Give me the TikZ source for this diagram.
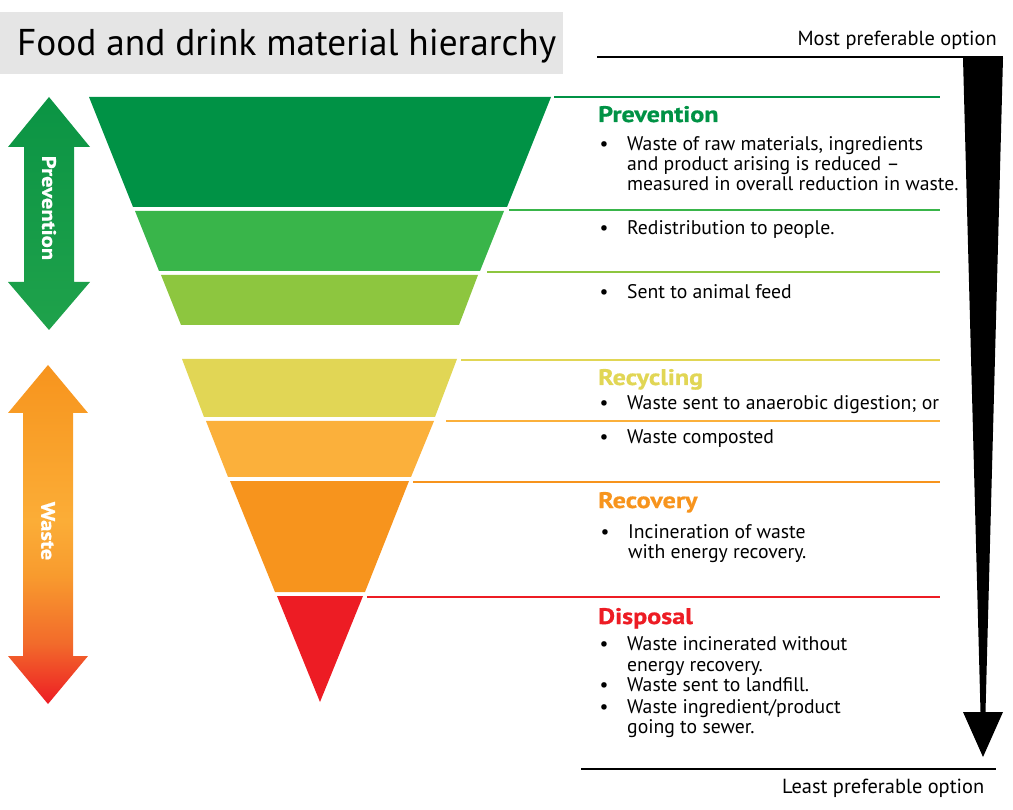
\documentclass[tikz,border=0pt]{standalone}
\usepackage{fontspec}
\setmainfont{PT Sans}
\newfontfamily\headfont{PT Sans}[FakeStretch=1.16,FakeBold=0.8]
\definecolor{gA}{HTML}{009245}
\definecolor{gB}{HTML}{39B54A}
\definecolor{gC}{HTML}{8DC63F}
\definecolor{yA}{HTML}{E1D655}
\definecolor{oA}{HTML}{FBB03B}
\definecolor{oB}{HTML}{F7941D}
\definecolor{rA}{HTML}{ED1C24}
\definecolor{titlegray}{HTML}{E5E5E5}
\definecolor{wred}{HTML}{ED1C24}
\definecolor{wredor}{HTML}{F26B2B}
\definecolor{wmid}{HTML}{F89B2E}
\definecolor{wlight}{HTML}{FBAD37}
\definecolor{wtop}{HTML}{F7941D}
\definecolor{arrgtop}{HTML}{0B9444}
\definecolor{arrgbot}{HTML}{1FA24B}
\pgfdeclareverticalshading{wasteshade}{100bp}{color(0bp)=(wred); color(25bp)=(wred); color(34bp)=(wredor); color(44bp)=(wmid); color(52bp)=(wlight); color(75bp)=(wtop); color(100bp)=(wtop)}
\tikzset{
  sepline/.style={line width=2pt},
  bodytext/.style={font=\fontsize{19.7}{20}\selectfont, anchor=base west, inner sep=0pt},
  bulletmark/.style={font=\fontsize{19.7}{20}\selectfont, anchor=base, inner sep=0pt},
  headtext/.style={font=\headfont\fontsize{22.5}{24}\selectfont\bfseries, anchor=base west, inner sep=0pt},
  endtext/.style={font=\fontsize{20.4}{22}\selectfont, inner sep=0pt},
  arrowlabel/.style={font=\headfont\fontsize{19.5}{20}\selectfont\bfseries, text=white, rotate=-90, inner sep=0pt},
}
\begin{document}
\begin{tikzpicture}[x=1pt,y=-1pt]
\useasboundingbox (0,0) rectangle (1013,810);
% title
\fill[titlegray] (0,12.5) rectangle (563,74.5);
\node[anchor=base west, font=\fontsize{37.3}{40}\selectfont, inner sep=0pt] (title) at (17,56) {Food and drink material hierarchy};

% left arrows
\shade[top color=arrgtop, bottom color=arrgbot] (49,97) -- (90,147) -- (74,147) -- (74,282) -- (90,282) -- (49,330) -- (8,282) -- (24,282) -- (24,147) -- (8,147) -- cycle;
\node[arrowlabel] (prevlab) at (49,208) {Prevention};
\shade[shading=wasteshade] (48,365) -- (88,413) -- (73,413) -- (73,656) -- (88,656) -- (48,704) -- (8,656) -- (23,656) -- (23,413) -- (8,413) -- cycle;
\node[arrowlabel] (wastelab) at (48,531) {Waste};

% funnel bands
\fill[gA] (89,97) -- (551,97) -- (507,207) -- (133,207) -- cycle;
\fill[gB] (135,211) -- (504,211) -- (480,271) -- (159,271) -- cycle;
\fill[gC] (161,275) -- (478,275) -- (459,325) -- (181,325) -- cycle;
\fill[yA] (182,359) -- (457,359) -- (435,417) -- (204,417) -- cycle;
\fill[oA] (206,421) -- (434,421) -- (411,477) -- (228,477) -- cycle;
\fill[oB] (230,481) -- (409,481) -- (365,592) -- (275,592) -- cycle;
\fill[rA] (277,596) -- (363,596) -- (320,702) -- cycle;

% separator lines
\draw[sepline, gA] (554,97.5) -- (940,97.5);
\draw[sepline, gB] (509,210) -- (940,210);
\draw[sepline, gC] (487,272) -- (940,272);
\draw[sepline, yA] (461,360) -- (940,360);
\draw[sepline, oA] (446,421) -- (940,421);
\draw[sepline, oB] (413,482) -- (940,482);
\draw[sepline, rA] (367,597) -- (940,597);

% preference arrow
\draw[sepline, black] (597,57.5) -- (1003,57.5);
\node[endtext, anchor=base east] (most) at (997,46) {Most preferable option};
\fill[black] (963,58) -- (1003,58) -- (985.5,712) -- (1003,712) -- (983,757) -- (963,712) -- (980.5,712) -- cycle;
\draw[sepline, black] (581,769) -- (996,769);
\node[endtext, anchor=base west] (least) at (782,793) {Least preferable option};

% Prevention
\node[headtext, text=gA] (hprev) at (598,122) {Prevention};
\node[bulletmark] (b1) at (604,151) {•};
\node[bodytext] (t1a) at (627,151) {Waste of raw materials, ingredients};
\node[bodytext] (t1b) at (627,171) {and product arising is reduced –};
\node[bodytext] (t1c) at (627,191) {measured in overall reduction in waste.};
\node[bulletmark] (b2) at (604,235) {•};
\node[bodytext] (t2) at (627,235) {Redistribution to people.};
\node[bulletmark] (b3) at (604,299) {•};
\node[bodytext] (t3) at (627,299) {Sent to animal feed};

% Recycling
\node[headtext, text=yA] (hrec) at (598,385) {Recycling};
\node[bulletmark] (b4) at (604,410) {•};
\node[bodytext] (t4) at (627,410) {Waste sent to anaerobic digestion; or};
\node[bulletmark] (b5) at (604,444) {•};
\node[bodytext] (t5) at (627,444) {Waste composted};

% Recovery
\node[headtext, text=oB] (hrecov) at (598,508) {Recovery};
\node[bulletmark] (b6) at (605,538) {•};
\node[bodytext] (t6a) at (628,538) {Incineration of waste};
\node[bodytext] (t6b) at (628,558) {with energy recovery.};

% Disposal
\node[headtext, text=rA] (hdisp) at (598,624) {Disposal};
\node[bulletmark] (b7) at (604,650) {•};
\node[bodytext] (t7a) at (627,650) {Waste incinerated without};
\node[bodytext] (t7b) at (627,671) {energy recovery.};
\node[bulletmark] (b8) at (604,691) {•};
\node[bodytext] (t8) at (627,691) {Waste sent to landfill.};
\node[bulletmark] (b9) at (604,713) {•};
\node[bodytext] (t9a) at (627,713) {Waste ingredient/product};
\node[bodytext] (t9b) at (627,733) {going to sewer.};
\end{tikzpicture}
\end{document}
